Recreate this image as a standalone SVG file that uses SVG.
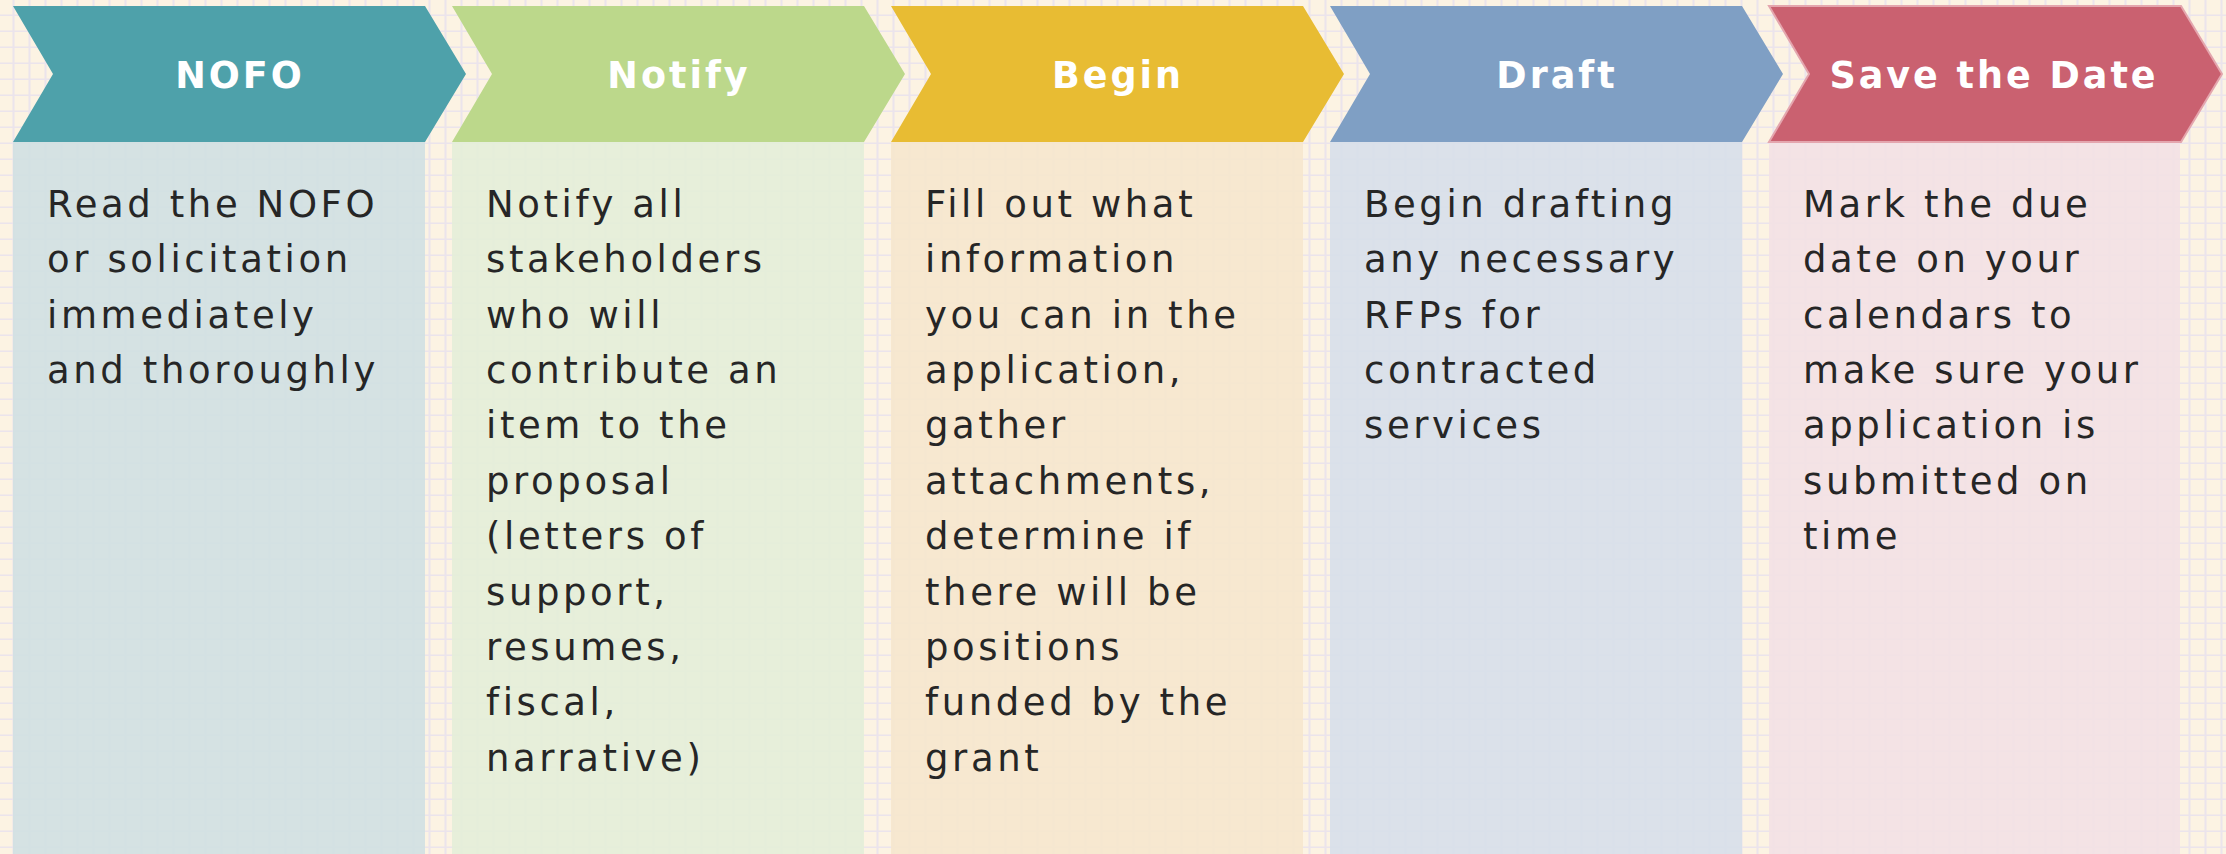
<svg xmlns="http://www.w3.org/2000/svg" width="2226" height="854" viewBox="0 0 2226 854">
<defs>
<pattern id="grid" x="0" y="0" width="16" height="16" patternUnits="userSpaceOnUse">
<rect width="16" height="16" fill="#fcf3e3"/>
<rect x="12.5" y="0" width="2" height="16" fill="#ebe4ec"/>
<rect x="0" y="14.5" width="16" height="2" fill="#ebe4ec"/>
</pattern>
<polygon id="chev" points="0,6 412,6 453,74 412,142 0,142 40,74"/>
</defs>
<style>
.box{fill-opacity:0.9}
.title{font-family:"DejaVu Sans",Verdana,sans-serif;font-weight:bold;font-size:36.5px;fill:#ffffff;letter-spacing:3px;text-anchor:middle}
.body{font-family:"DejaVu Sans",Verdana,sans-serif;font-size:37px;fill:#262626;letter-spacing:3.6px}
</style>
<rect width="2226" height="854" fill="url(#grid)"/>
<g id="nofo">
<rect class="box" x="13" y="142" width="412" height="712" fill="#d0e0e2"/>
<use href="#chev" x="13" fill="#4ea1aa"/>
<text class="title" x="240" y="88">NOFO</text>
<text class="body" x="47" y="216.7">
<tspan x="47">Read the NOFO</tspan>
<tspan x="47" dy="55.4">or solicitation</tspan>
<tspan x="47" dy="55.4">immediately</tspan>
<tspan x="47" dy="55.4">and thoroughly</tspan>
</text>
</g>
<g id="notify">
<rect class="box" x="452" y="142" width="412" height="712" fill="#e4eed8"/>
<use href="#chev" x="452" fill="#bcd88b"/>
<text class="title" x="679" y="88">Notify</text>
<text class="body" x="486" y="216.7">
<tspan x="486">Notify all</tspan>
<tspan x="486" dy="55.4">stakeholders</tspan>
<tspan x="486" dy="55.4">who will</tspan>
<tspan x="486" dy="55.4">contribute an</tspan>
<tspan x="486" dy="55.4">item to the</tspan>
<tspan x="486" dy="55.4">proposal</tspan>
<tspan x="486" dy="55.4">(letters of</tspan>
<tspan x="486" dy="55.4">support,</tspan>
<tspan x="486" dy="55.4">resumes,</tspan>
<tspan x="486" dy="55.4">fiscal,</tspan>
<tspan x="486" dy="55.4">narrative)</tspan>
</text>
</g>
<g id="begin">
<rect class="box" x="891" y="142" width="412" height="712" fill="#f6e7cd"/>
<use href="#chev" x="891" fill="#e8bc33"/>
<text class="title" x="1118" y="88">Begin</text>
<text class="body" x="925" y="216.7">
<tspan x="925">Fill out what</tspan>
<tspan x="925" dy="55.4">information</tspan>
<tspan x="925" dy="55.4">you can in the</tspan>
<tspan x="925" dy="55.4">application,</tspan>
<tspan x="925" dy="55.4">gather</tspan>
<tspan x="925" dy="55.4">attachments,</tspan>
<tspan x="925" dy="55.4">determine if</tspan>
<tspan x="925" dy="55.4">there will be</tspan>
<tspan x="925" dy="55.4">positions</tspan>
<tspan x="925" dy="55.4">funded by the</tspan>
<tspan x="925" dy="55.4">grant</tspan>
</text>
</g>
<g id="draft">
<rect class="box" x="1330" y="142" width="412" height="712" fill="#d7dfea"/>
<use href="#chev" x="1330" fill="#7f9fc4"/>
<text class="title" x="1557" y="88">Draft</text>
<text class="body" x="1364" y="216.7">
<tspan x="1364">Begin drafting</tspan>
<tspan x="1364" dy="55.4">any necessary</tspan>
<tspan x="1364" dy="55.4">RFPs for</tspan>
<tspan x="1364" dy="55.4">contracted</tspan>
<tspan x="1364" dy="55.4">services</tspan>
</text>
</g>
<g id="save-the-date">
<rect class="box" x="1769" y="142" width="411" height="712" fill="#f3e1e4"/>
<use href="#chev" x="1769" fill="#ca6170" stroke="#e4a6ae" stroke-width="2"/>
<text class="title" x="1994" y="88">Save the Date</text>
<text class="body" x="1803" y="216.7">
<tspan x="1803">Mark the due</tspan>
<tspan x="1803" dy="55.4">date on your</tspan>
<tspan x="1803" dy="55.4">calendars to</tspan>
<tspan x="1803" dy="55.4">make sure your</tspan>
<tspan x="1803" dy="55.4">application is</tspan>
<tspan x="1803" dy="55.4">submitted on</tspan>
<tspan x="1803" dy="55.4">time</tspan>
</text>
</g>
<g id="connectors"></g>
</svg>
